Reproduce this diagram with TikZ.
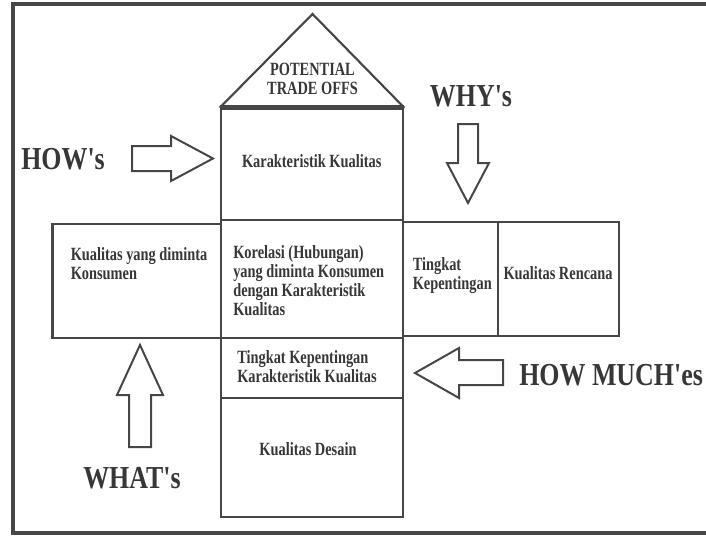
\documentclass[tikz,border=0pt]{standalone}
\usepackage{fontspec}
\newfontfamily\qfdfont[FakeStretch=0.77, Ligatures=TeXOff]{Liberation Serif}
\newfontfamily\qfdbigfont[FakeStretch=0.81, Ligatures=TeXOff]{Liberation Serif}
\definecolor{linegray}{RGB}{70,70,70}
\definecolor{textgray}{RGB}{55,55,55}

\begin{document}
\begin{tikzpicture}[
		x=0.75pt, y=-0.75pt,
		cell/.style = {rectangle, draw=linegray, line width=1.9pt, inner sep=0pt},
		txt/.style = {inner sep=0pt, text=textgray, align=left, font=\qfdfont\bfseries\fontsize{14pt}{14.25pt}\selectfont},
		big/.style = {inner sep=0pt, text=textgray, font=\qfdbigfont\bfseries\fontsize{24pt}{28pt}\selectfont},
		blockarrow/.style = {draw=linegray, line width=1.5pt},
		roof/.style = {draw=linegray, line width=1.6pt},
		]
		\useasboundingbox (0,0) rectangle (706,535);
		
		% === === Frame === ===
		\draw[linegray, line width=3pt] (712,4) -- (13,4) -- (13,532.5) -- (712,532.5);
		
		% === === Boxes === ===
		\node[cell, minimum width=136.5pt, minimum height=83.25pt]	(karak)		at (312,164.5)	{};
		\node[cell, minimum width=136.5pt, minimum height=88.5pt]	(korel)		at (312,279)	{};
		\node[cell, minimum width=126.4pt, minimum height=85.5pt]	(kons)		at (136.75,281)	{};
		\node[cell, minimum width=71.25pt, minimum height=85.5pt]	(tingkat)	at (450.5,279)	{};
		\node[cell, minimum width=90.75pt, minimum height=85.5pt]	(rencana)	at (558.5,279)	{};
		\node[cell, minimum width=136.5pt, minimum height=45pt]		(bobot)		at (312,368)	{};
		\node[cell, minimum width=136.5pt, minimum height=89.25pt]	(desain)	at (312,457.5)	{};
		
		% === === Roof === ===
		\coordinate (apex) at (312.5,14);
		\draw[roof] (karak.north west) -- (apex) -- (karak.north east);
		\draw[linegray, line width=3.75pt] (karak.north west) -- (karak.north east);
		
		% === === Texts === ===
		\node[txt, align=center, anchor=north]	(roof-t)	at (312.5,62.6)	{POTENTIAL\\TRADE OFFS};
		\node[txt, anchor=base]			(karak-t)	at (311.7,167.3)	{Karakteristik Kualitas};
		\node[txt, anchor=north west]	(kons-t)	at (70.5,247.3)	{Kualitas yang diminta\\Konsumen};
		\node[txt, anchor=north west]	(korel-t)	at (233,244.8)	{Korelasi (Hubungan)\\yang diminta Konsumen\\dengan Karakteristik\\Kualitas};
		\node[txt, anchor=north west]	(tingkat-t)	at (412.5,257.3)	{Tingkat\\Kepentingan};
		\node[txt, anchor=base]			(rencana-t)	at (558,279)	{Kualitas Rencana};
		\node[txt, anchor=north west]	(bobot-t)	at (237,350.3)	{Tingkat Kepentingan\\Karakteristik Kualitas};
		\node[txt, anchor=base]			(desain-t)	at (308,455)	{Kualitas Desain};
		
		\node[big, anchor=base west]	(hows)		at (21,169)		{HOW's};
		\node[big, anchor=base]			(whys)		at (471,106)	{WHY's};
		\node[big, anchor=base west]	(howmuch)	at (519,385)	{HOW MUCH'es};
		\node[big, anchor=base west]	(whats)		at (83,488)		{WHAT's};
		
		% === === Arrows === ===
		\draw[blockarrow] (132,146) -- (171,146) -- (171,136) -- (213,158.5) -- (171,181) -- (171,171) -- (132,171) -- cycle;
		\draw[blockarrow] (458,124) -- (478,124) -- (478,163) -- (489,163) -- (468,203) -- (447,163) -- (458,163) -- cycle;
		\draw[blockarrow] (129,447) -- (129,395) -- (117,395) -- (140,345) -- (163,395) -- (151,395) -- (151,447) -- cycle;
		\draw[blockarrow] (503,360) -- (459,360) -- (459,348) -- (415,373) -- (459,398) -- (459,385) -- (503,385) -- cycle;
		
	\end{tikzpicture}
\end{document}
